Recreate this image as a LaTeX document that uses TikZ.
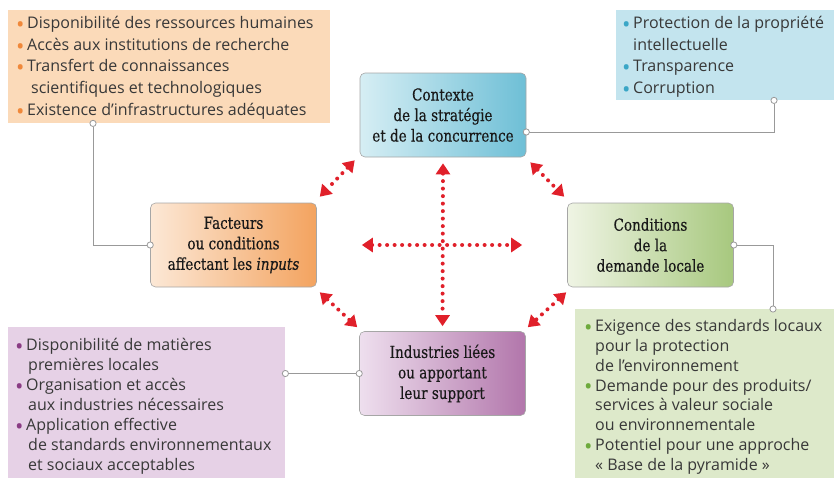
\documentclass[tikz,border=0pt]{standalone}
\usepackage{graphicx}
\usepackage{fontspec}
\setmainfont{Open Sans}
\newfontfamily\titlefont[FakeStretch=0.82,FakeBold=0.4]{DejaVu Serif}
\usetikzlibrary{arrows.meta}
\definecolor{arrred}{HTML}{E0202A}
\definecolor{txtgray}{HTML}{383838}
\definecolor{orngfill}{HTML}{FBDAB9}
\definecolor{orngdot}{HTML}{F0883A}
\definecolor{bluefill}{HTML}{C3E4EE}
\definecolor{bluedot}{HTML}{3AA6C6}
\definecolor{grnfill}{HTML}{DDE9CA}
\definecolor{grndot}{HTML}{6DAA3C}
\definecolor{purfill}{HTML}{E6D1E6}
\definecolor{purdot}{HTML}{8A3C84}
\definecolor{ctxlo}{HTML}{D6EEF4}
\definecolor{ctxhi}{HTML}{6EBFD6}
\definecolor{faclo}{HTML}{FCE8D6}
\definecolor{fachi}{HTML}{F3A35F}
\definecolor{condlo}{HTML}{EFF4E4}
\definecolor{condhi}{HTML}{A7C87E}
\definecolor{indlo}{HTML}{EEDFEE}
\definecolor{indhi}{HTML}{B276AB}
\newcommand\bul[1]{\makebox[11pt][l]{\raisebox{-0.45ex}{\scalebox{1.4}{\textcolor{#1}{\textbullet}}}}}

\begin{document}
\begin{tikzpicture}[x=1pt,y=-1pt,
    every node/.style={inner sep=0pt},
    listbox/.style={anchor=north west},
    listtext/.style={anchor=north west, align=left, text=txtgray, font=\fontsize{16}{21.7}\selectfont},
    keybox/.style={draw=black!35, line width=0.6pt, rounded corners=5pt, minimum width=166, minimum height=84,
      align=center, text=black!90, font=\titlefont\fontsize{16.5}{20.5}\selectfont},
    link/.style={draw=black!40, line width=0.8pt, {Circle[fill=white,length=7pt,width=7pt]}-{Circle[fill=white,length=7pt,width=7pt]},
      shorten <=-3.5pt, shorten >=-3.5pt},
    duo/.style={draw=arrred, line width=4pt, line cap=round, dash pattern=on 0pt off 7.5pt,
      {Triangle[length=11pt,width=14pt]}-{Triangle[length=11pt,width=14pt]}}]
    \useasboundingbox (0,0) rectangle (834,477);
    \node[listbox, fill=orngfill, minimum width=322, minimum height=113] (orng) at (8,10) {};
    \node[listtext] (orngtxt) at ([shift={(8pt,-6pt)}]orng.north west)
      {\bul{orngdot}Disponibilité des ressources humaines\\
       \bul{orngdot}Accès aux institutions de recherche\\
       \bul{orngdot}Transfert de connaissances\\
       \hspace*{15pt}scientifiques et technologiques\\
       \bul{orngdot}Existence d’infrastructures adéquates};
    \node[listbox, fill=bluefill, minimum width=230, minimum height=90] (blu) at (616,10) {};
    \node[listtext] (blutxt) at ([shift={(6pt,-6pt)}]blu.north west)
      {\bul{bluedot}Protection de la propriété\\
       \hspace*{11pt}intellectuelle\\
       \bul{bluedot}Transparence\\
       \bul{bluedot}Corruption};
    \node[listbox, fill=grnfill, minimum width=270, minimum height=182] (grn) at (575,309) {};
    \node[listtext, font=\fontsize{16}{19.9}\selectfont] (grntxt) at ([shift={(9pt,-10pt)}]grn.north west)
      {\bul{grndot}Exigence des standards locaux\\
       \hspace*{11pt}pour la protection\\
       \hspace*{11pt}de l’environnement\\
       \bul{grndot}Demande pour des produits/\\
       \hspace*{11pt}services à valeur sociale\\
       \hspace*{11pt}ou environnementale\\
       \bul{grndot}Potentiel pour une approche\\
       \hspace*{11pt}«~Base de la pyramide~»};
    \node[listbox, fill=purfill, minimum width=277, minimum height=164] (pur) at (8,327) {};
    \node[listtext, font=\fontsize{16}{20}\selectfont] (purtxt) at ([shift={(7pt,-11pt)}]pur.north west)
      {\bul{purdot}Disponibilité de matières\\
       \hspace*{13pt}premières locales\\
       \bul{purdot}Organisation et accès\\
       \hspace*{13pt}aux industries nécessaires\\
       \bul{purdot}Application effective\\
       \hspace*{13pt}de standards environnementaux\\
       \hspace*{13pt}et sociaux acceptables};
    \node[keybox, left color=ctxlo, right color=ctxhi] (ctx) at (443,115)
      {Contexte\\de la stratégie\\et de la concurrence};
    \node[keybox, left color=faclo, right color=fachi] (fac) at (233.5,245)
      {Facteurs\\ou conditions\\affectant les \textit{inputs}};
    \node[keybox, left color=condlo, right color=condhi] (cond) at (650.5,245)
      {Conditions\\de la\\demande locale};
    \node[keybox, left color=indlo, right color=indhi] (ind) at (442.5,373.5)
      {Industries liées\\ou apportant\\leur support};
    \draw[link] ([xshift=85pt]orng.south west) |- (fac.west);
    \draw[link] ([yshift=-17pt]ctx.east) -| ([xshift=158pt]blu.south west);
    \draw[link] (cond.east) -| ([xshift=198pt]grn.north west);
    \draw[link] (ind.west) -- (ind.west -| pur.east);
    \draw[duo] ([shift={(-5pt,-3pt)}]ctx.south west) -- ([shift={(3pt,6pt)}]fac.north east);
    \draw[duo] ([shift={(4pt,-5pt)}]ctx.south east) -- ([shift={(-3pt,6pt)}]cond.north west);
    \draw[duo] ([shift={(3pt,-5pt)}]fac.south east) -- ([shift={(-2pt,4pt)}]ind.north west);
    \draw[duo] ([shift={(-1pt,-5pt)}]cond.south west) -- ([shift={(2pt,4pt)}]ind.north east);
    \draw[duo] ([yshift=-6pt]ctx.south) -- ([yshift=5pt]ind.north);
    \draw[duo] ([xshift=45pt]fac.east) -- ([xshift=-45pt]cond.west);
\end{tikzpicture}
\end{document}
